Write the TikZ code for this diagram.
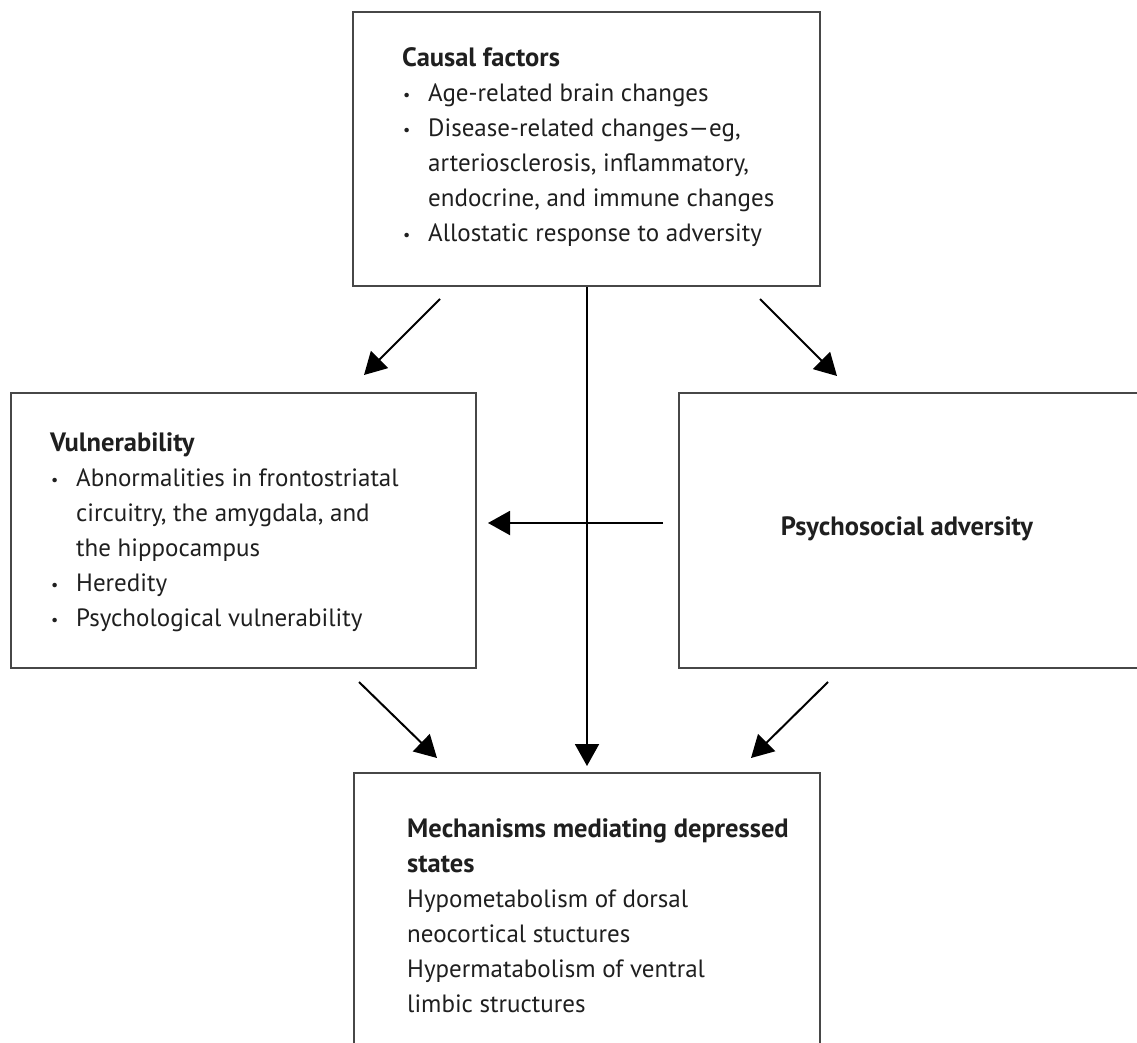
\documentclass[tikz,border=0pt]{standalone}
\usepackage{fontspec}
\setmainfont{PT Sans}
\usetikzlibrary{arrows.meta}
\newcommand\bul{\makebox[26pt][l]{\hspace{1pt}\raisebox{1pt}{\fontsize{16}{16}\selectfont•}}}
\newcommand\ind{\hspace*{26pt}}
\newcommand\hd[1]{{\fontsize{26.5}{35}\selectfont\textbf{#1}}}
\begin{document}
\begin{tikzpicture}[x=1pt,y=-1pt,
  boxstyle/.style={draw=black!72,line width=2.5pt,rectangle,inner sep=0pt,fill=none},
  txt/.style={anchor=base west,inner sep=0pt,align=left,font=\fontsize{25}{35}\selectfont,text=black!88},
  arr/.style={line width=2pt,-{Triangle[length=22pt,width=24pt]}}]
\clip (0,0) rectangle (1137,1043);
\fill[white] (0,0) rectangle (1137,1043);
% boxes
\node[boxstyle,minimum width=467pt,minimum height=274pt] (top) at (586.5,149) {};
\node[boxstyle,minimum width=465pt,minimum height=275pt] (left) at (243.5,530.5) {};
\node[boxstyle,minimum width=521pt,minimum height=275pt] (right) at (939.5,530.5) {};
\node[boxstyle,minimum width=466pt,minimum height=320pt] (bot) at (587,933) {};
% texts (anchored at the baseline of their last line)
\node[txt] (toptext) at (402,241) {\hd{Causal factors}\\
\bul Age-related brain changes\\
\bul Disease-related changes—eg,\\
\ind arteriosclerosis, inflammatory,\\
\ind endocrine, and immune changes\\
\bul Allostatic response to adversity};
\node[txt] (lefttext) at (50,626) {\hd{Vulnerability}\\
\bul Abnormalities in frontostriatal\\
\ind circuitry, the amygdala, and\\
\ind the hippocampus\\
\bul Heredity\\
\bul Psychological vulnerability};
\node[txt,anchor=base] (righttext) at (907,535) {\hd{Psychosocial adversity}};
\node[txt] (bottext) at (407,1012) {\hd{Mechanisms mediating depressed}\\
\hd{states}\\
Hypometabolism of dorsal\\
neocortical stuctures\\
Hypermatabolism of ventral\\
limbic structures};
% connector end points
\coordinate (tls) at (440,299);
\coordinate (tlt) at (364,375);
\coordinate (trs) at (760,299);
\coordinate (trt) at (837,376);
\coordinate (hs) at (663,523);
\coordinate (ht) at (488,523);
\coordinate (bls) at (359,682);
\coordinate (blt) at (437,758);
\coordinate (brs) at (828,682);
\coordinate (brt) at (751,758);
\coordinate (vt) at (587,766);
% connectors
\draw[arr] (tls) -- (tlt);
\draw[arr] (trs) -- (trt);
\draw[arr] (hs) -- (ht);
\draw[arr] (bls) -- (blt);
\draw[arr] (brs) -- (brt);
\draw[arr] (top.south -| vt) -- (vt);
\end{tikzpicture}
\end{document}
